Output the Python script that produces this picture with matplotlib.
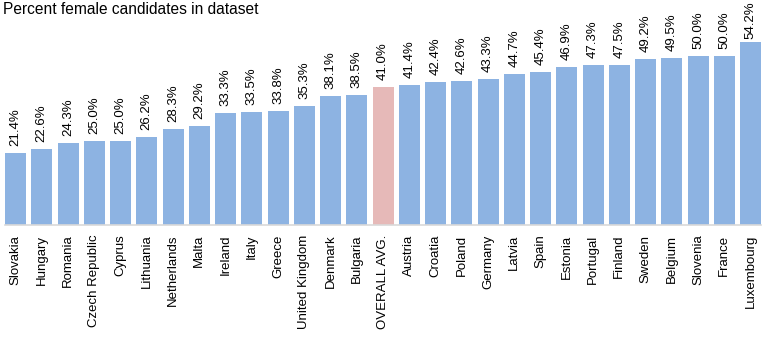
import matplotlib.pyplot as plt

plt.rcParams['font.family'] = ['Liberation Sans', 'DejaVu Sans']

# Data
countries = ['Slovakia', 'Hungary', 'Romania', 'Czech Republic', 'Cyprus',
             'Lithuania', 'Netherlands', 'Malta', 'Ireland', 'Italy', 'Greece',
             'United Kingdom', 'Denmark', 'Bulgaria', 'OVERALL AVG.', 'Austria',
             'Croatia', 'Poland', 'Germany', 'Latvia', 'Spain', 'Estonia',
             'Portugal', 'Finland', 'Sweden', 'Belgium', 'Slovenia', 'France',
             'Luxembourg']
pct_female = [21.4, 22.6, 24.3, 25.0, 25.0, 26.2, 28.3, 29.2, 33.3, 33.5, 33.8,
              35.3, 38.1, 38.5, 41.0, 41.4, 42.4, 42.6, 43.3, 44.7, 45.4, 46.9,
              47.3, 47.5, 49.2, 49.5, 50.0, 50.0, 54.2]
highlight = 'OVERALL AVG.'

blue = '#8DB3E2'
pink = '#E6B9B8'

fig = plt.figure(figsize=(7.64, 3.38), dpi=100)
ax = fig.add_axes([5 / 764, 1 - 225 / 338, 756 / 764, 202.6 / 338])

x = list(range(len(countries)))
colors = [pink if c == highlight else blue for c in countries]
ax.bar(x, pct_female, width=0.8, color=colors)

ax.set_xlim(-0.4, len(countries) - 0.6)
ax.set_ylim(0, 60)

# value labels above the bars - like excel, pull a label down if it
# would run off the top of the chart
fig.canvas.draw()
renderer = fig.canvas.get_renderer()
for xi, v in zip(x, pct_female):
    t = ax.annotate(f'{v:.1f}%', (xi, v), xytext=(0, 5),
                    textcoords='offset points', rotation=90,
                    ha='center', va='bottom', fontsize=9.5)
    top = t.get_window_extent(renderer).y1
    limit = fig.bbox.height - 1
    if top > limit:
        shift = (top - limit) * 72 / fig.dpi
        t.xyann = (0, 5 - shift)

ax.set_xticks(x)
ax.set_xticklabels(countries, rotation=90, fontsize=9.5)
ax.tick_params(axis='x', length=0, pad=7)
ax.set_yticks([])

for side in ['top', 'right', 'left']:
    ax.spines[side].set_visible(False)
ax.spines['bottom'].set_color('#D9D9D9')
ax.spines['bottom'].set_linewidth(1.2)

fig.text(3 / 764, 1 - 10 / 338, 'Percent female candidates in dataset',
         fontsize=11.2, ha='left', va='center')

plt.savefig('out.png', dpi=100)
